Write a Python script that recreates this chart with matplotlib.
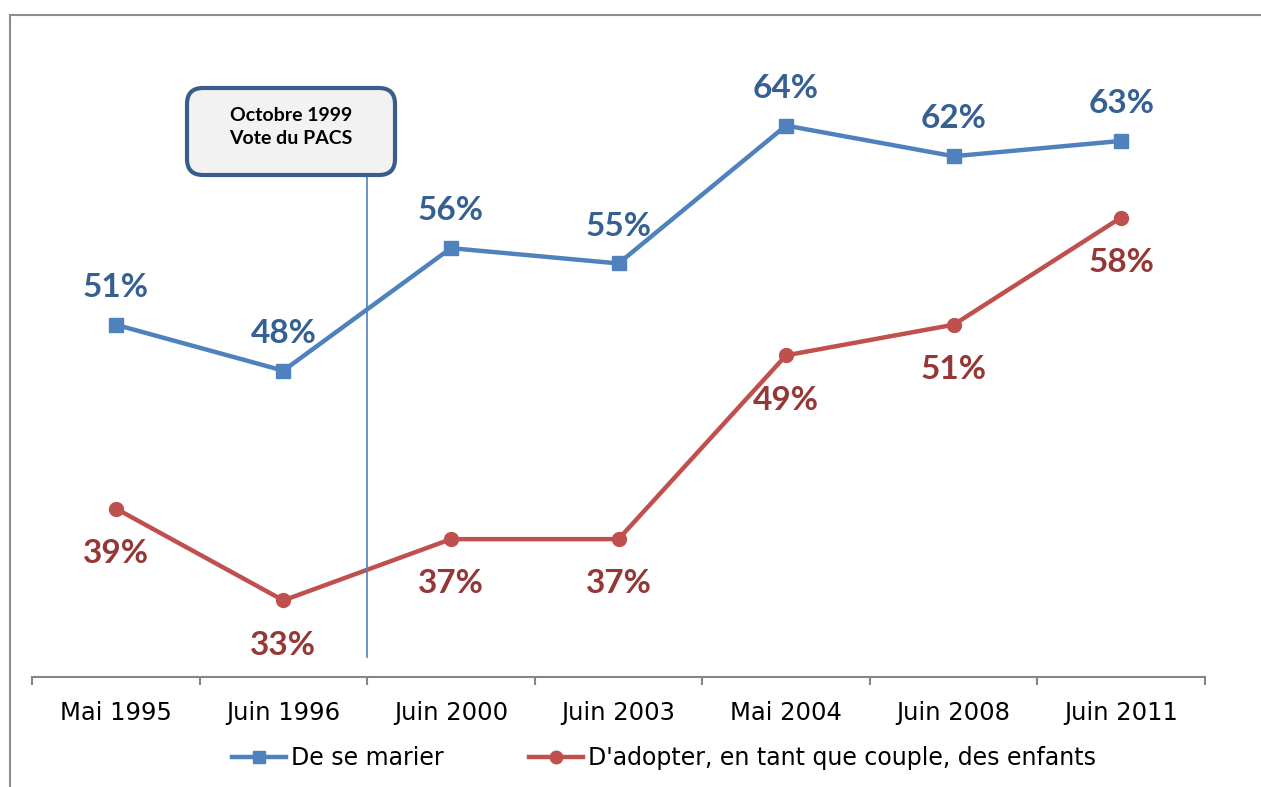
import matplotlib
matplotlib.use('Agg')
import matplotlib.pyplot as plt
from matplotlib.patches import FancyBboxPatch, Rectangle
from matplotlib.transforms import IdentityTransform
from matplotlib.lines import Line2D

# données
categories = ["Mai 1995", "Juin 1996", "Juin 2000", "Juin 2003",
              "Mai 2004", "Juin 2008", "Juin 2011"]
marier = [51, 48, 56, 55, 64, 62, 63]
adopter = [39, 33, 37, 37, 49, 51, 58]
nom_marier = "De se marier"
nom_adopter = "D'adopter, en tant que couple, des enfants"
note = "Octobre 1999\nVote du PACS"

C_BLEU, C_BLEU_TXT = '#4F81BD', '#376092'
C_ROUGE, C_ROUGE_TXT = '#C0504D', '#953735'
C_GRIS = '#868686'

W, H = 1261, 787
fig = plt.figure(figsize=(W / 100, H / 100), dpi=100)
ax = fig.add_axes([32 / W, 1 - 677 / H, (1205 - 32) / W, (677 - 33.7) / H])

x = list(range(len(categories)))
ax.plot(x, marier, color=C_BLEU, lw=3.2, marker='s', ms=10, zorder=3)
ax.plot(x, adopter, color=C_ROUGE, lw=3.2, marker='o', ms=10, zorder=3)

for xi, v in zip(x, marier):
    ax.annotate(f"{v}%", (xi, v), xytext=(0, 20), textcoords='offset points',
                ha='center', va='baseline', fontsize=24, fontweight='bold',
                family='Lato', color=C_BLEU_TXT)
for xi, v in zip(x, adopter):
    ax.annotate(f"{v}%", (xi, v), xytext=(0, -39), textcoords='offset points',
                ha='center', va='baseline', fontsize=24, fontweight='bold',
                family='Lato', color=C_ROUGE_TXT)

ax.set_xlim(-0.5, len(categories) - 0.5)
ax.set_ylim(28, 70)
ax.set_yticks([])
for s in ['top', 'left', 'right']:
    ax.spines[s].set_visible(False)
ax.spines['bottom'].set_color(C_GRIS)
ax.spines['bottom'].set_linewidth(1.5)

ax.set_xticks([i - 0.5 for i in range(len(categories) + 1)])
ax.set_xticklabels([])
ax.tick_params(axis='x', which='major', length=6, width=1.5, color=C_GRIS)
ax.set_xticks(x, minor=True)
ax.set_xticklabels(categories, minor=True, fontsize=17.5)
ax.tick_params(axis='x', which='minor', length=0, pad=17)

# ligne verticale du PACS
ax.axvline(1.5, ymin=0.031, ymax=0.80, color=C_BLEU, lw=1.2, zorder=5)

# encadré
boite = FancyBboxPatch((187, H - 175), 208, 87,
                       boxstyle="round,pad=0,rounding_size=16",
                       transform=IdentityTransform(), facecolor='#F2F2F2',
                       edgecolor='#385D8A', lw=3, zorder=4)
fig.patches.append(boite)
fig.text(291 / W, 1 - 127 / H, note, ha='center', va='center', fontsize=14,
         fontweight='bold', family='Lato', linespacing=1.45, zorder=6)

# cadre extérieur
cadre = Rectangle((10, -20), W + 20, H - 15 + 20, transform=IdentityTransform(),
                  facecolor='none', edgecolor='#8C8C8C', lw=1.5)
fig.patches.append(cadre)

h1 = Line2D([], [], color=C_BLEU, lw=3.2, marker='s', ms=9)
h2 = Line2D([], [], color=C_ROUGE, lw=3.2, marker='o', ms=9)
fig.legend([h1, h2], [nom_marier, nom_adopter], loc='center',
           bbox_to_anchor=(664 / W, 1 - 758 / H), ncol=2, frameon=False,
           fontsize=17, handlelength=2.3, handletextpad=0.2,
           columnspacing=3.6)

fig.savefig('out.png', dpi=100, facecolor='white')
